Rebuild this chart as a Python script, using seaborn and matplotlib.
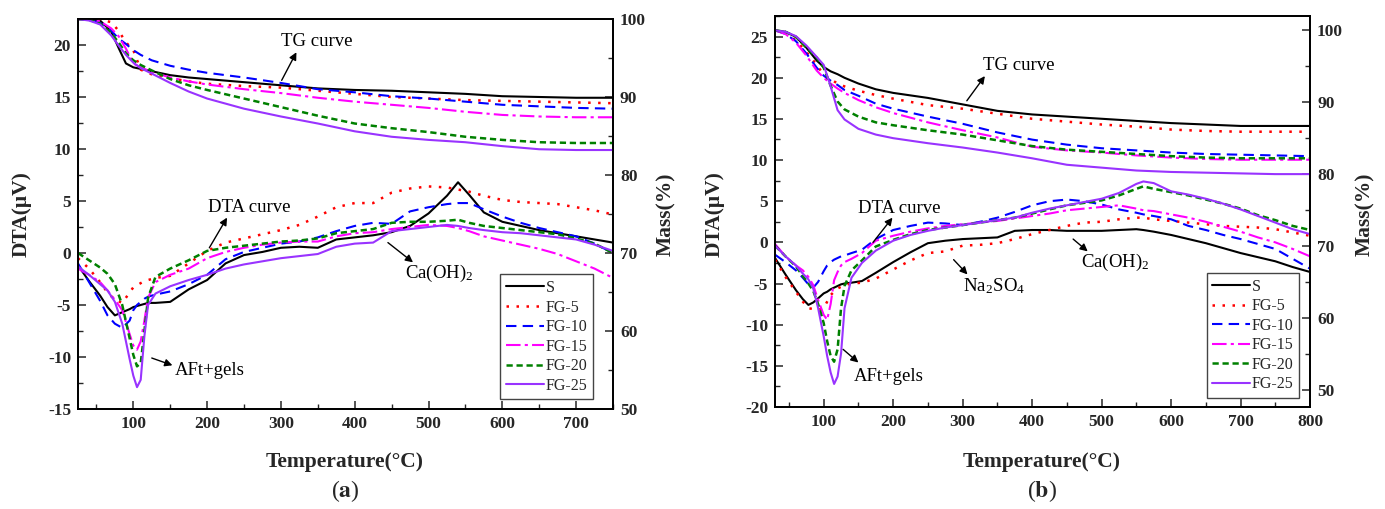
import numpy as np
import pandas as pd
import matplotlib
matplotlib.use('Agg')
import matplotlib.pyplot as plt
import seaborn as sns
from matplotlib.ticker import MultipleLocator

# =========================================================
# DATA
# =========================================================

SERIES = ['S', 'FG-5', 'FG-10', 'FG-15', 'FG-20', 'FG-25']

# ---- panel (a): DTA ----
TA_DTA = [25, 40, 55, 65, 75, 85, 95, 100, 105, 110, 115, 120, 130, 150, 175, 200,
          225, 250, 275, 300, 325, 350, 375, 400, 425, 450, 475, 500, 525, 540,
          555, 575, 600, 625, 650, 675, 700, 725, 750]
A_DTA_S = [-1.2, -2.7, -4.1, -5.2, -6.0, -5.7, -5.4, -5.2, -5.1, -5.0, -4.9, -4.8, -4.8, -4.7,
           -3.5, -2.6, -1.0, -0.2, 0.1, 0.5, 0.6, 0.5, 1.3, 1.5, 1.7, 2.0, 2.6, 3.8, 5.5, 6.8,
           5.6, 3.9, 3.0, 2.6, 2.2, 1.9, 1.6, 1.3, 1.0]
A_DTA_FG5 = [-0.5, -1.5, -2.8, -3.8, -4.5, -4.8, -3.8, -3.3, -3.1, -2.9, -2.7, -2.6, -2.4, -2.2,
             -1.0, 0.2, 1.0, 1.4, 1.8, 2.2, 2.7, 3.5, 4.4, 4.8, 4.8, 5.8, 6.2, 6.4, 6.3, 6.1,
             5.9, 5.5, 5.1, 4.9, 4.8, 4.7, 4.4, 4.1, 3.7]
A_DTA_FG10 = [-1.0, -2.8, -4.6, -6.0, -6.8, -7.2, -6.5, -5.5, -5.0, -4.7, -4.4, -4.2, -4.0, -3.7,
              -3.0, -2.1, -0.6, 0.1, 0.5, 0.9, 1.1, 1.5, 2.1, 2.6, 2.9, 2.8, 4.0, 4.4, 4.7, 4.8,
              4.8, 4.2, 3.5, 2.9, 2.4, 2.0, 1.6, 0.9, 0.0]
A_DTA_FG15 = [-1.5, -2.1, -2.8, -3.6, -4.5, -5.5, -7.8, -8.9, -9.3, -8.5, -6.5, -4.3, -2.8, -2.1,
              -1.5, -0.5, 0.1, 0.5, 0.8, 1.0, 1.1, 1.1, 1.6, 1.9, 2.0, 2.3, 2.5, 2.7, 2.6, 2.4,
              2.1, 1.6, 1.2, 0.8, 0.4, -0.1, -0.8, -1.5, -2.4]
A_DTA_FG20 = [0.0, -0.7, -1.4, -2.0, -3.0, -5.0, -8.2, -9.8, -10.9, -10.6, -7.5, -4.3, -2.3, -1.5,
              -0.7, 0.2, 0.5, 0.7, 0.9, 1.1, 1.2, 1.4, 1.9, 2.1, 2.3, 2.9, 3.0, 3.0, 3.1, 3.2,
              2.9, 2.6, 2.4, 2.2, 2.0, 1.8, 1.4, 0.9, 0.0]
A_DTA_FG25 = [-1.3, -2.1, -3.0, -3.6, -4.7, -6.8, -10.2, -11.8, -12.9, -12.2, -8.0, -5.0, -3.9, -3.2,
              -2.6, -2.1, -1.5, -1.1, -0.8, -0.5, -0.3, -0.1, 0.6, 0.9, 1.0, 2.1, 2.3, 2.5, 2.7, 2.6,
              2.4, 2.2, 2.0, 1.9, 1.7, 1.5, 1.3, 0.8, 0.2]

# ---- panel (a): TG ----
TA_TG = [25, 40, 55, 70, 80, 90, 100, 110, 125, 150, 175, 200, 250, 300, 350, 400,
         450, 500, 550, 600, 650, 700, 750]
A_TG_S = [100, 100, 99.8, 98.4, 96.3, 94.3, 93.8, 93.6, 93.3, 92.8, 92.5, 92.3, 91.9, 91.5,
          91.1, 90.9, 90.8, 90.6, 90.4, 90.1, 90.0, 89.9, 89.9]
A_TG_FG5 = [100, 100, 99.9, 99.6, 98.5, 97.0, 96.0, 93.5, 92.9, 92.4, 92.0, 91.7, 91.4, 91.2,
            90.8, 90.4, 90.0, 89.8, 89.6, 89.5, 89.4, 89.3, 89.2]
A_TG_FG10 = [100, 99.9, 99.5, 98.5, 97.5, 96.8, 96.0, 95.4, 94.7, 94.0, 93.5, 93.1, 92.5, 91.8,
             91.0, 90.6, 90.1, 89.8, 89.4, 89.0, 88.8, 88.6, 88.5]
A_TG_FG15 = [100, 100, 99.7, 98.8, 97.8, 96.2, 94.3, 93.8, 93.2, 92.5, 92.0, 91.6, 91.0, 90.5,
             89.9, 89.4, 89.0, 88.6, 88.1, 87.7, 87.5, 87.4, 87.4]
A_TG_FG20 = [100, 99.9, 99.4, 98.2, 97.0, 95.6, 94.7, 94.1, 93.4, 92.3, 91.5, 90.9, 89.8, 88.7,
             87.6, 86.6, 86.0, 85.5, 84.9, 84.5, 84.2, 84.1, 84.1]
A_TG_FG25 = [100, 99.8, 99.3, 97.9, 96.6, 95.4, 94.4, 93.7, 93.0, 91.8, 90.7, 89.8, 88.5, 87.5,
             86.6, 85.6, 84.9, 84.5, 84.2, 83.7, 83.3, 83.2, 83.2]

# ---- panel (b): DTA ----
TB_DTA = [30, 45, 60, 70, 78, 85, 92, 100, 105, 110, 115, 120, 125, 130, 140, 155, 175, 200,
          225, 250, 275, 300, 325, 350, 375, 400, 425, 450, 475, 500, 525, 550, 560, 575,
          600, 625, 650, 675, 700, 725, 750, 775, 800]
B_DTA_S = [-1.9, -3.9, -5.8, -6.9, -7.6, -7.3, -6.8, -6.2, -6.0, -5.7, -5.5, -5.3, -5.1, -5.0,
           -4.9, -4.7, -3.7, -2.4, -1.2, -0.1, 0.2, 0.4, 0.5, 0.6, 1.4, 1.5, 1.5, 1.4, 1.4, 1.4,
           1.5, 1.6, 1.5, 1.3, 0.9, 0.4, -0.1, -0.7, -1.3, -1.8, -2.3, -3.0, -3.6]
B_DTA_FG5 = [-2.1, -4.2, -6.0, -7.2, -8.0, -8.1, -8.2, -8.0, -7.2, -6.4, -6.0, -5.6, -5.4, -5.2,
             -5.0, -4.9, -4.4, -3.3, -2.2, -1.3, -1.1, -0.4, -0.3, -0.1, 0.4, 1.0, 1.5, 2.0, 2.4,
             2.5, 2.8, 3.0, 3.0, 2.8, 2.6, 2.4, 2.2, 2.0, 1.9, 1.8, 1.6, 1.2, 0.8]
B_DTA_FG10 = [-1.5, -2.4, -3.4, -4.3, -5.1, -5.5, -4.8, -3.5, -2.8, -2.4, -2.1, -1.9, -1.7, -1.6,
              -1.3, -0.9, 0.4, 1.5, 2.0, 2.4, 2.3, 2.1, 2.5, 3.0, 3.7, 4.5, 5.0, 5.2, 5.0, 4.6,
              4.0, 3.6, 3.4, 3.2, 2.8, 2.0, 1.5, 0.9, 0.4, -0.2, -0.8, -2.0, -3.2]
B_DTA_FG15 = [-0.2, -1.7, -2.8, -3.4, -4.2, -5.2, -7.0, -8.8, -9.4, -7.5, -4.6, -3.6, -2.8, -2.4,
              -2.0, -1.3, 0.2, 0.8, 1.3, 1.7, 2.0, 2.2, 2.4, 2.6, 2.9, 3.2, 3.5, 3.9, 4.1, 4.3,
              4.5, 4.1, 3.9, 3.8, 3.4, 3.0, 2.5, 1.9, 1.3, 0.6, 0.0, -0.8, -1.7]
B_DTA_FG20 = [-0.4, -1.7, -2.9, -4.1, -5.0, -5.9, -7.5, -9.8, -12.0, -13.8, -14.5, -13.0, -8.0, -5.3,
              -3.4, -2.2, -0.5, 0.3, 1.0, 1.5, 1.8, 2.1, 2.4, 2.7, 3.0, 3.5, 4.0, 4.5, 4.8, 5.1,
              5.7, 6.5, 6.8, 6.5, 6.1, 5.7, 5.2, 4.7, 4.1, 3.3, 2.7, 2.0, 1.5]
B_DTA_FG25 = [-0.4, -1.7, -2.8, -3.8, -4.5, -5.6, -8.0, -11.4, -13.8, -15.8, -17.2, -16.3, -13.5, -8.0,
              -4.3, -2.5, -1.0, 0.2, 0.9, 1.4, 1.8, 2.1, 2.4, 2.7, 3.0, 3.6, 4.1, 4.5, 4.9, 5.3,
              6.0, 7.1, 7.4, 7.2, 6.2, 5.8, 5.3, 4.7, 4.0, 3.2, 2.4, 1.6, 1.0]

# ---- panel (b): TG ----
TB_TG = [30, 45, 60, 75, 90, 100, 110, 120, 130, 150, 175, 200, 250, 300, 350, 400, 450,
         500, 550, 600, 650, 700, 750, 800]
B_TG_S = [100, 99.8, 99.1, 97.6, 95.8, 94.9, 94.3, 93.9, 93.4, 92.6, 91.8, 91.3, 90.6, 89.7,
          88.8, 88.3, 88.0, 87.7, 87.4, 87.1, 86.9, 86.7, 86.7, 86.7]
B_TG_FG5 = [100, 99.6, 98.6, 97.0, 95.2, 93.8, 93.2, 92.6, 92.2, 91.6, 91.0, 90.5, 89.6, 89.1,
            88.4, 87.7, 87.3, 86.9, 86.6, 86.2, 86.0, 85.9, 85.9, 85.9]
B_TG_FG10 = [100, 99.5, 98.5, 96.8, 94.8, 93.7, 93.0, 92.4, 91.7, 90.9, 89.8, 89.1, 88.0, 87.0,
             85.8, 84.8, 84.1, 83.6, 83.3, 83.0, 82.8, 82.7, 82.6, 82.5]
B_TG_FG15 = [100, 99.5, 98.3, 96.5, 94.4, 93.4, 92.6, 91.9, 91.3, 90.3, 89.3, 88.5, 87.2, 86.1,
             85.1, 83.8, 83.3, 83.0, 82.6, 82.3, 82.1, 82.0, 82.0, 82.0]
B_TG_FG20 = [100, 99.8, 99.1, 97.6, 96.2, 94.8, 92.3, 90.1, 89.0, 88.0, 87.2, 86.8, 86.1, 85.5,
             84.7, 83.9, 83.4, 83.1, 82.8, 82.5, 82.3, 82.2, 82.2, 82.2]
B_TG_FG25 = [100, 99.8, 99.2, 97.9, 96.3, 95.2, 92.2, 88.9, 87.6, 86.3, 85.5, 85.0, 84.3, 83.7,
             83.0, 82.2, 81.3, 80.9, 80.5, 80.3, 80.2, 80.1, 80.0, 80.0]

# =========================================================
# STYLE
# =========================================================

COLORS = ['black', '#ff0000', '#0000ff', '#ff00ff', '#008000', '#9933ff']
LSTYLES = ['-', (0, (1, 3)), (0, (5, 3)), (0, (7, 2, 1.5, 2)), (0, (2.5, 1.5)), '-']
LWIDTHS = [1.5, 1.8, 1.5, 1.5, 1.8, 1.5]

sns.set_style('ticks')
plt.rcParams['font.family'] = ['Liberation Serif', 'DejaVu Serif']
plt.rcParams['mathtext.fontset'] = 'stix'
plt.rcParams['axes.unicode_minus'] = False
plt.rcParams['axes.edgecolor'] = 'black'


def draw_panel(ax, t_dta, dta, t_tg, tg, xlim, ylim_dta, ylim_tg, xticks):
    ax2 = ax.twinx()
    for i, name in enumerate(SERIES):
        sns.lineplot(x=t_tg, y=tg[i], ax=ax2, color=COLORS[i], linewidth=LWIDTHS[i],
                     linestyle=LSTYLES[i], sort=False, legend=False)
        sns.lineplot(x=t_dta, y=dta[i], ax=ax, color=COLORS[i], linewidth=LWIDTHS[i],
                     linestyle=LSTYLES[i], sort=False, legend=False, label=name)
    ax.set_xlim(*xlim)
    ax.set_ylim(*ylim_dta)
    ax2.set_ylim(*ylim_tg)
    ax.set_xticks(xticks)
    ax.xaxis.set_minor_locator(MultipleLocator(50))
    ax.yaxis.set_major_locator(MultipleLocator(5))
    ax.yaxis.set_minor_locator(MultipleLocator(2.5))
    ax2.yaxis.set_major_locator(MultipleLocator(10))
    ax2.yaxis.set_minor_locator(MultipleLocator(5))
    ax.set_xlabel('')
    ax.set_ylabel('')
    ax2.set_ylabel('')
    for a in (ax, ax2):
        a.tick_params(which='major', direction='in', length=6, width=1.1,
                      labelsize=12.5, pad=5)
        a.tick_params(which='minor', direction='in', length=3.5, width=1)
        for s in a.spines.values():
            s.set_linewidth(1.3)
            s.set_color('black')
        for lbl in a.get_xticklabels() + a.get_yticklabels():
            lbl.set_fontweight('bold')
    ax.tick_params(which='both', top=False, right=False)
    ax2.tick_params(which='both', top=False, left=False, right=True)

    handles = ax.get_lines()[:len(SERIES)]
    if ax.get_legend() is not None:
        ax.get_legend().remove()
    return ax2, handles


def arrow_note(ax, text, tail, head, pos, fontsize=13.5):
    ax.annotate('', xy=head, xytext=tail,
                arrowprops=dict(arrowstyle='-|>', color='black', lw=1.0,
                                mutation_scale=11, shrinkA=0, shrinkB=0))
    ax.text(pos[0], pos[1], text, ha='left', va='center', fontsize=fontsize, color='black')


fig = plt.figure(figsize=(13.85, 5.09), dpi=100)
ax_a = fig.add_axes([0.0563, 0.1965, 0.3863, 0.7662])
ax_b = fig.add_axes([0.5596, 0.2004, 0.3863, 0.7682])

a2, h_a = draw_panel(ax_a, TA_DTA,
                     [A_DTA_S, A_DTA_FG5, A_DTA_FG10, A_DTA_FG15, A_DTA_FG20, A_DTA_FG25],
                     TA_TG,
                     [A_TG_S, A_TG_FG5, A_TG_FG10, A_TG_FG15, A_TG_FG20, A_TG_FG25],
                     (25, 750), (-15, 22.5), (50, 100), [100, 200, 300, 400, 500, 600, 700])
b2, h_b = draw_panel(ax_b, TB_DTA,
                     [B_DTA_S, B_DTA_FG5, B_DTA_FG10, B_DTA_FG15, B_DTA_FG20, B_DTA_FG25],
                     TB_TG,
                     [B_TG_S, B_TG_FG5, B_TG_FG10, B_TG_FG15, B_TG_FG20, B_TG_FG25],
                     (30, 800), (-20, 27.5), (47.6, 102), [100, 200, 300, 400, 500, 600, 700, 800])

legend_kw = dict(loc='lower right', fontsize=11.5, frameon=True, fancybox=False,
                 edgecolor='#444444', framealpha=1, handlelength=2.4, handletextpad=0.1,
                 labelspacing=0.22, borderpad=0.35, borderaxespad=0)
leg_a = a2.legend(h_a, SERIES, bbox_to_anchor=(0.963, 0.025), **legend_kw)
leg_b = b2.legend(h_b, SERIES, bbox_to_anchor=(0.98, 0.023), **legend_kw)
for leg in (leg_a, leg_b):
    leg.get_frame().set_linewidth(1.0)

# annotations, panel (a)
arrow_note(ax_a, 'TG curve', (301, 16.6), (321, 19.3), (300, 20.3))
arrow_note(ax_a, 'DTA curve', (203, 0.5), (227, 3.4), (201, 4.4))
arrow_note(ax_a, 'AFt+gels', (125, -10.1), (153, -10.8), (156, -11.3))
arrow_note(ax_a, r'Ca(OH)$_\mathregular{2}$', (445, 1.0), (479, -0.9), (468, -2.0))

# annotations, panel (b)
arrow_note(ax_b, 'TG curve', (306, 17.2), (332, 20.2), (329, 21.5))
arrow_note(ax_b, 'DTA curve', (171, 0.0), (199, 3.0), (150, 4.1))
arrow_note(ax_b, 'AFt+gels', (128, -13.0), (150, -14.6), (143, -16.3))
arrow_note(ax_b, r'Na$_\mathregular{2}$SO$_\mathregular{4}$', (287, -2.1), (307, -3.9), (300, -5.3))
arrow_note(ax_b, r'Ca(OH)$_\mathregular{2}$', (459, 0.4), (480, -1.1), (470, -2.4))

# axis titles
lab = dict(fontsize=15.5, fontweight='bold', ha='center', va='center')
fig.text(0.016, 0.58, 'DTA(μV)', rotation=90, **lab)
fig.text(0.481, 0.58, 'Mass(%)', rotation=90, **lab)
fig.text(0.516, 0.58, 'DTA(μV)', rotation=90, **lab)
fig.text(0.9856, 0.58, 'Mass(%)', rotation=90, **lab)
fig.text(0.249, 0.092, 'Temperature(°C)', **lab)
fig.text(0.752, 0.092, 'Temperature(°C)', **lab)
fig.text(0.249, 0.036, r'($\mathbf{a}$)', fontsize=17, ha='center', va='center')
fig.text(0.752, 0.036, r'($\mathbf{b}$)', fontsize=17, ha='center', va='center')

fig.savefig('out.png', dpi=100)
